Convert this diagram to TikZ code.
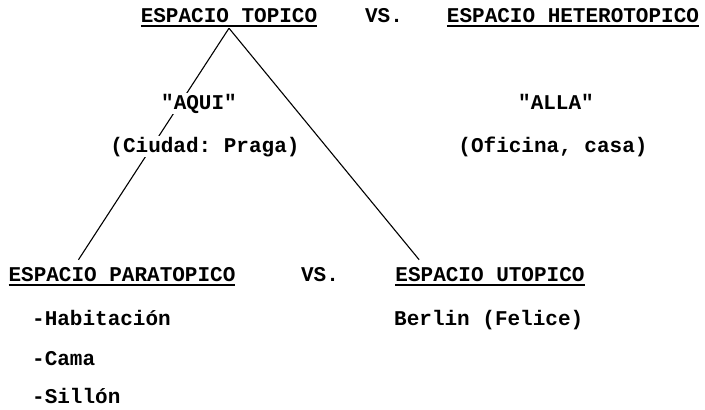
\documentclass[tikz,border=0pt]{standalone}
\usepackage{fontspec}
\setmonofont{Liberation Mono}
\usetikzlibrary{calc,backgrounds}
\newcommand{\subr}[1]{\setbox0=\hbox{#1}\rlap{\copy0}\rule[-5pt]{\wd0}{2.2pt}}
\tikzset{
  txt/.style={font=\ttfamily\bfseries\fontsize{21}{24}\selectfont,
              inner sep=1pt, fill=white, anchor=base},
  lst/.style={txt, anchor=base west},
  rama/.style={line width=1.1pt}
}

\begin{document}
\begin{tikzpicture}[x=1pt,y=-1pt]
   \useasboundingbox (0,0) rectangle (705,410);
   % fila superior
   \node[txt] (topico) at (229,22) {\subr{ESPACIO TOPICO}};
   \node[txt] (vsa)    at (384,22) {VS.};
   \node[txt] (hetero) at (573,22) {\subr{ESPACIO HETEROTOPICO}};
   \node[txt] (aqui)   at (199,109) {"AQUI"};
   \node[txt] (ciudad) at (205,152) {(Ciudad: Praga)};
   \node[txt] (alla)   at (556,109) {"ALLA"};
   \node[txt] (oficina) at (553,152) {(Oficina, casa)};
   % fila inferior
   \node[txt] (para)   at (122,281) {\subr{ESPACIO PARATOPICO}};
   \node[txt] (vsb)    at (320,281) {VS.};
   \node[txt] (utopico) at (490,281) {\subr{ESPACIO UTOPICO}};
   \node[lst] (hab)    at (31,325) {-Habitación};
   \node[lst] (cama)   at (31,365) {-Cama};
   \node[lst] (sillon) at (31,403) {-Sillón};
   \node[lst] (berlin) at (393,325) {Berlin (Felice)};
   % ramas
   \coordinate (apex) at (topico.south);
   \coordinate (pfin) at ($(para.north west)!.31!(para.north east)+(0,-6)$);
   \coordinate (ufin) at ($(utopico.north west)!.13!(utopico.north east)+(0,-6)$);
   \begin{scope}[on background layer]
    \draw[rama] (apex) -- (pfin);
    \draw[rama] (apex) -- (ufin);
   \end{scope}
\end{tikzpicture}
\end{document}
